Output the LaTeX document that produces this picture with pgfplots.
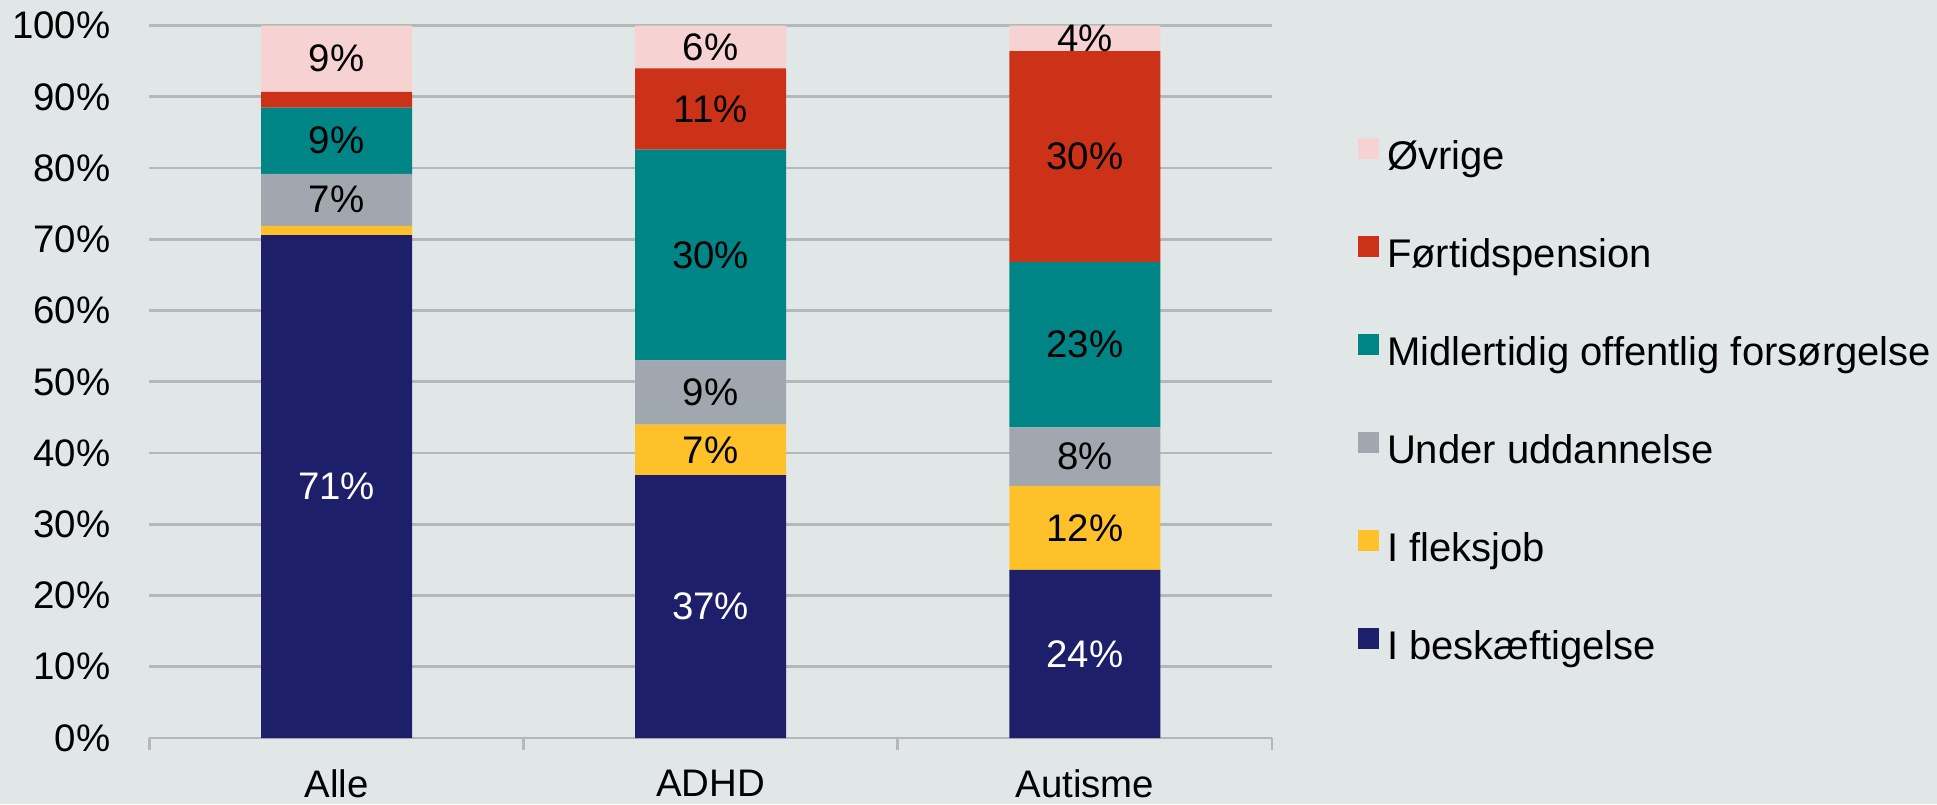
\documentclass[border=0pt]{standalone}
\usepackage{fontspec}
\setmainfont{Liberation Sans}
\usepackage{pgfplots}
\pgfplotsset{compat=1.18}
\definecolor{bgc}{HTML}{E1E7E7}
\definecolor{gridc}{HTML}{B4B8BA}
\definecolor{cnavy}{HTML}{1E1F6B}
\definecolor{cyellow}{HTML}{FFC129}
\definecolor{cgray}{HTML}{A0A7AE}
\definecolor{cteal}{HTML}{008587}
\definecolor{cred}{HTML}{CC3218}
\definecolor{cpink}{HTML}{F7D2D2}
\newcommand{\fnt}{\fontsize{9.6}{11.5}\selectfont}
\newcommand{\lfnt}{\fontsize{10}{12}\selectfont}
\begin{document}
\begin{tikzpicture}
\path[use as bounding box, fill=bgc] (-37.375pt,-16.5pt) rectangle (446.875pt,184.5pt);
\begin{axis}[
  at={(0pt,0pt)}, anchor=south west,
  scale only axis, width=280.6pt, height=178.1pt,
  ybar stacked, bar width=37.75pt,
  xmin=-0.5, xmax=2.5, ymin=0, ymax=100,
  xtick={0,1,2}, xticklabels={Alle,ADHD,Autisme},
  ytick={0,10,...,100},
  yticklabel={\pgfmathprintnumber{\tick}\%},
  /pgf/number format/assume math mode=true,
  ticklabel style={font=\fnt},
  xticklabel style={yshift=-4.5pt},
  yticklabel style={xshift=-6.25pt},
  major tick length=0pt,
  extra x ticks={-0.5,0.5,1.5,2.5},
  extra x tick labels={},
  extra x tick style={major tick length=3pt, tick align=outside, tick style={draw=gridc, line width=0.7pt}},
  axis x line*=bottom, axis y line*=left,
  x axis line style={draw=gridc, line width=0.7pt, -},
  y axis line style={draw=none},
  ymajorgrids, grid style={draw=gridc, line width=0.7pt},
  legend style={at={(1.0759,0.4708)}, anchor=west, draw=none, fill=none, font=\lfnt, row sep=14.8pt, column sep=2pt, inner sep=0pt, nodes={inner sep=0pt, text height=7.2pt, text depth=2pt}},
  legend cell align=left,
  reverse legend,
  legend image code/.code={\fill[#1] (0pt,0pt) rectangle (5.3pt,5.1pt);},
]
\addplot[fill=cnavy, draw=none] coordinates {(0,70.6) (1,36.9) (2,23.6)};
\addplot[fill=cyellow, draw=none] coordinates {(0,1.3) (1,7.1) (2,11.8)};
\addplot[fill=cgray, draw=none] coordinates {(0,7.3) (1,9.0) (2,8.2)};
\addplot[fill=cteal, draw=none] coordinates {(0,9.3) (1,29.6) (2,23.2)};
\addplot[fill=cred, draw=none] coordinates {(0,2.2) (1,11.4) (2,29.6)};
\addplot[fill=cpink, draw=none] coordinates {(0,9.3) (1,6.0) (2,3.6)};
\legend{I beskæftigelse, I fleksjob, Under uddannelse, Midlertidig offentlig forsørgelse, Førtidspension, Øvrige}
\end{axis}
% value labels at segment centres
\begin{axis}[
  at={(0pt,0pt)}, anchor=south west,
  scale only axis, width=280.6pt, height=178.1pt,
  xmin=-0.5, xmax=2.5, ymin=0, ymax=100,
  hide axis,
  point meta=explicit symbolic,
  nodes near coords,
  every node near coord/.append style={anchor=center, font=\fnt, inner sep=0pt},
]
\addplot[draw=none, mark=none, every node near coord/.append style={text=white}] coordinates {(0,35.3) [71\%] (1,18.45) [37\%] (2,11.8) [24\%]};
\addplot[draw=none, mark=none] coordinates {(1,40.45) [7\%] (2,29.5) [12\%]};
\addplot[draw=none, mark=none] coordinates {(0,75.55) [7\%] (1,48.5) [9\%] (2,39.5) [8\%]};
\addplot[draw=none, mark=none] coordinates {(0,83.85) [9\%] (1,67.8) [30\%] (2,55.2) [23\%]};
\addplot[draw=none, mark=none] coordinates {(1,88.3) [11\%] (2,81.6) [30\%]};
\addplot[draw=none, mark=none] coordinates {(0,95.35) [9\%] (1,97.0) [6\%] (2,98.2) [4\%]};
\end{axis}
\end{tikzpicture}
\end{document}
